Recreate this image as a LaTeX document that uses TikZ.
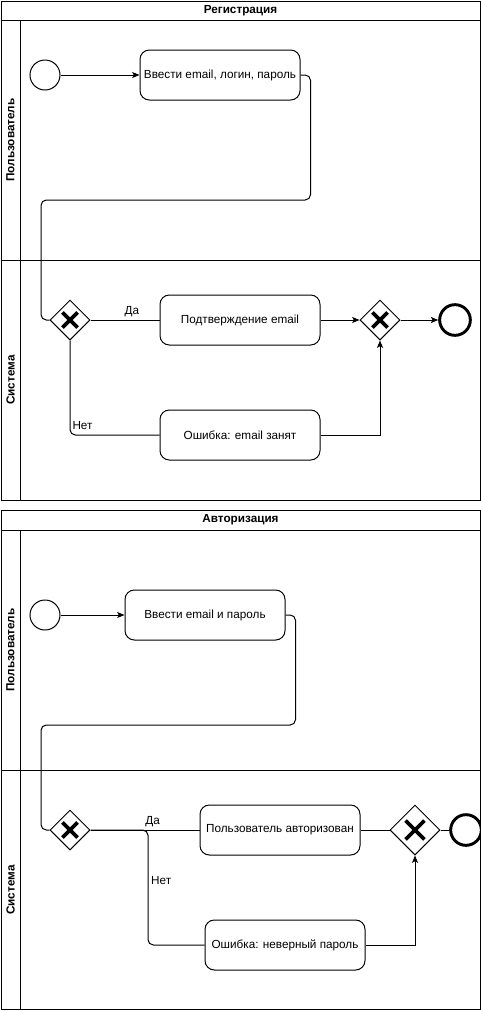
\documentclass[tikz,border=0pt]{standalone}
\usepackage{fontspec}
\setmainfont{Liberation Sans}
\usetikzlibrary{shapes.geometric}
\usetikzlibrary{positioning}
\usetikzlibrary{arrows.meta}
\usetikzlibrary{calc}

\begin{document}
\begin{tikzpicture}[x=0.75pt, y=-0.75pt, line width=0.75pt,
  font=\fontsize{8.8}{10.5}\selectfont,
  task/.style={rectangle, draw, fill=white, rounded corners=7pt, minimum width=120pt, minimum height=37.5pt, inner sep=1pt},
  startev/.style={circle, draw, fill=white, minimum size=22.5pt, inner sep=0pt},
  endev/.style={circle, draw, fill=white, line width=2.2pt, minimum size=23pt, inner sep=0pt},
  gate/.style={diamond, draw, fill=white, minimum width=30pt, minimum height=30pt, inner sep=0pt,
    path picture={\draw[line width=2.8pt]
      ($(path picture bounding box.south west)!0.31!(path picture bounding box.north east)$) --
      ($(path picture bounding box.south west)!0.69!(path picture bounding box.north east)$)
      ($(path picture bounding box.north west)!0.31!(path picture bounding box.south east)$) --
      ($(path picture bounding box.north west)!0.69!(path picture bounding box.south east)$);}},
  biggate/.style={gate, minimum width=37.5pt, minimum height=37.5pt},
  flow/.style={-{Stealth[length=5.5pt, width=4.5pt, inset=1.2pt]}},
  link/.style={rounded corners=4pt},
  pooltitle/.style={font=\fontsize{8.8}{10.5}\selectfont\bfseries},
  lanename/.style={rotate=90, font=\fontsize{8.8}{10.5}\selectfont\bfseries}]
\useasboundingbox (0,0) rectangle (481,1011);

% pool: Регистрация
\draw (1,1) rectangle (480,500);
\draw (1,20) -- (480,20);
\draw (20,20) -- (20,500);
\draw (1,260) -- (480,260);
\node[pooltitle] (reg) at (240.5,10.5) {Регистрация};
\node[lanename] (reguser) at (10.5,140) {Пользователь};
\node[lanename] (regsys) at (10.5,380) {Система};

\node[startev] (regstart) at (45,75) {};
\node[task] (enterall) at (220,75) {Ввести email, логин, пароль};
\node[gate] (regcheck) at (70,320) {};
\node[task] (confirm) at (240,320) {Подтверждение email};
\node[gate] (regjoin) at (380,320) {};
\node[endev] (regend) at (455,320) {};
\node[task] (busy) at (240,435) {Ошибка: email занят};

\draw[flow] (regstart) -- (enterall);
\draw[link] (enterall.east) -- ++(10,0) |- (41,200) |- (regcheck.west);
\draw (regcheck.east) -- node[above, pos=0.6, inner sep=2pt] {Да} (confirm.west);
\draw[flow] (confirm) -- (regjoin);
\draw[flow] (regjoin) -- (regend);
\draw[link] (regcheck.south) |- node[pos=0.5, above right, inner sep=1.5pt, yshift=2pt] {Нет} (busy.west);
\draw[flow] (busy.east) -| (regjoin.south);

% pool: Авторизация
\draw (1,510) rectangle (480,1009);
\draw (1,530) -- (480,530);
\draw (20,530) -- (20,1009);
\draw (1,770) -- (480,770);
\node[pooltitle] (auth) at (240.5,520) {Авторизация};
\node[lanename] (authuser) at (10.5,650) {Пользователь};
\node[lanename] (authsys) at (10.5,890) {Система};

\node[startev] (authstart) at (45,615) {};
\node[task] (enterpass) at (205,615) {Ввести email и пароль};
\node[gate] (authcheck) at (70,830) {};
\node[task] (authok) at (280,830) {Пользователь авторизован};
\node[biggate] (authjoin) at (415,830) {};
\node[endev] (authend) at (466,830) {};
\node[task] (wrongpass) at (285,945) {Ошибка: неверный пароль};
\coordinate (split) at (148,830);

\draw[flow] (authstart) -- (enterpass);
\draw[link] (enterpass.east) -- ++(10,0) |- (41,725) |- (authcheck.west);
\draw (authcheck.east) -- node[above, pos=0.57, inner sep=2pt] {Да} (authok.west);
\draw[link] (authcheck.east) -- (split) |- node[pos=0.22, right, inner sep=2pt] {Нет} (wrongpass.west);
\draw (authok) -- (authjoin);
\draw (authjoin) -- (authend);
\draw[flow] (wrongpass.east) -| (authjoin.south);
\end{tikzpicture}
\end{document}
